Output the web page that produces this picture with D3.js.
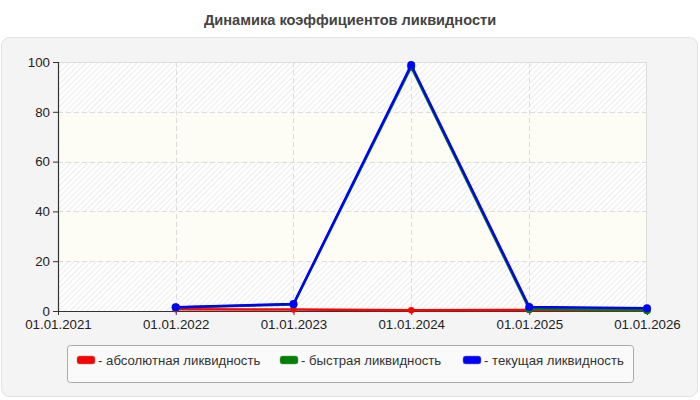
<!DOCTYPE html>
<html>
<head>
<meta charset="utf-8">
<script src="https://cdn.jsdelivr.net/npm/d3@7"></script>
<style>
  body { margin: 0; background: #fff; font-family: "Liberation Sans", Arial, sans-serif; }
  svg text { font-family: "Liberation Sans", Arial, sans-serif; }
</style>
</head>
<body>
<div id="chart"></div>
<script>
const title = "Динамика коэффициентов ликвидности";
const dates = ["2022-01-01", "2023-01-01", "2024-01-01", "2025-01-01", "2026-01-01"];
const seriesNames = ["абсолютная ликвидность", "быстрая ликвидность", "текущая ликвидность"];
const seriesColors = ["#ff0000", "#008000", "#0000ff"];
const absolute = [0.7, 0.6, 0.3, 0.4, 0.3];
const quick = [1.4, 2.6, 98, 0.8, 0.3];
const current = [1.5, 2.8, 98.8, 1.6, 1.1];
const xDomain = ["2021-01-01", "2026-01-01"];
const yTicks = [0, 20, 40, 60, 80, 100];

const width = 700;
const height = 400;
const margin = { top: 62, right: 53, bottom: 89, left: 58 };
const innerW = width - margin.left - margin.right;
const innerH = height - margin.top - margin.bottom;

const parse = d3.utcParse("%Y-%m-%d");
const fmt = d3.utcFormat("%d.%m.%Y");

const series = [absolute, quick, current].map((vals, i) => ({
  name: seriesNames[i],
  color: seriesColors[i],
  values: vals.map((v, j) => ({ date: parse(dates[j]), value: v })),
}));

const x = d3.scaleUtc().domain(xDomain.map(parse)).range([0, innerW]);
const y = d3.scaleLinear().domain([0, 100]).range([innerH, 0]);

const svg = d3.select("#chart").append("svg")
  .attr("width", width)
  .attr("height", height);

const defs = svg.append("defs");
const hatch = defs.append("pattern")
  .attr("id", "hatch")
  .attr("patternUnits", "userSpaceOnUse")
  .attr("width", 4)
  .attr("height", 4)
  .attr("patternTransform", "rotate(45)");
hatch.append("rect").attr("width", 4).attr("height", 4).attr("fill", "#ffffff");
hatch.append("line").attr("x1", 0).attr("y1", 0).attr("x2", 0).attr("y2", 4)
  .attr("stroke", "#e6e6e6").attr("stroke-width", 1.5);

// outer panel
svg.append("rect")
  .attr("x", 1.5).attr("y", 37.5)
  .attr("width", 696).attr("height", 359)
  .attr("rx", 8)
  .attr("fill", "#f4f4f4")
  .attr("stroke", "#e2e2e2");

svg.append("text")
  .attr("x", width / 2)
  .attr("y", 25)
  .attr("text-anchor", "middle")
  .attr("font-size", 14.6)
  .attr("font-weight", "bold")
  .attr("fill", "#444")
  .text(title);

const g = svg.append("g").attr("transform", `translate(${margin.left},${margin.top})`);

// alternating bands
const bands = d3.pairs(yTicks);
g.selectAll(".band")
  .data(bands)
  .join("rect")
  .attr("x", 0)
  .attr("width", innerW)
  .attr("y", (d) => y(d[1]))
  .attr("height", (d) => y(d[0]) - y(d[1]))
  .attr("fill", (d, i) => (i % 2 === 0 ? "url(#hatch)" : "#fdfdf6"));

// grid
g.selectAll(".hgrid")
  .data(yTicks.slice(1, -1))
  .join("line")
  .attr("x1", 0).attr("x2", innerW)
  .attr("y1", (d) => Math.round(y(d)) + 0.5)
  .attr("y2", (d) => Math.round(y(d)) + 0.5)
  .attr("stroke", "#dcdcdc")
  .attr("stroke-dasharray", "5,3");

const xTicks = x.ticks(d3.utcYear.every(1));
g.selectAll(".vgrid")
  .data(xTicks.slice(1, -1))
  .join("line")
  .attr("x1", (d) => Math.round(x(d)) + 0.5)
  .attr("x2", (d) => Math.round(x(d)) + 0.5)
  .attr("y1", 0).attr("y2", innerH)
  .attr("stroke", "#dcdcdc")
  .attr("stroke-dasharray", "5,3");

// plot frame top/right
g.append("path")
  .attr("d", `M0,0.5H${innerW - 0.5}V${innerH}`)
  .attr("fill", "none")
  .attr("stroke", "#dddddd");

// axes
const yAxis = g.append("g")
  .call(d3.axisLeft(y).tickValues(yTicks).tickSize(5).tickPadding(3));
const xAxis = g.append("g")
  .attr("transform", `translate(0,${innerH})`)
  .call(d3.axisBottom(x).tickValues(xTicks).tickFormat(fmt).tickSize(4).tickPadding(5));
[yAxis, xAxis].forEach((ax) => {
  ax.select(".domain").attr("stroke", "#333").attr("stroke-width", 1.2);
  ax.selectAll(".tick line").attr("stroke", "#333");
  ax.selectAll(".tick text")
    .attr("fill", "#222")
    .attr("font-size", 13.3)
    .attr("font-family", "'Liberation Sans', Arial, sans-serif");
});
xAxis.select(".domain").attr("d", `M0,0.5H${innerW}`);

// lines
const line = d3.line()
  .x((d) => x(d.date))
  .y((d) => y(d.value));

const sg = g.selectAll(".series")
  .data(series)
  .join("g");

sg.append("path")
  .attr("d", (d) => line(d.values))
  .attr("fill", "none")
  .attr("stroke", (d) => d.color)
  .attr("stroke-width", 2.5)
  .attr("stroke-linejoin", "round");

sg.selectAll("circle")
  .data((d) => d.values.map((v) => ({ ...v, color: d.color })))
  .join("circle")
  .attr("cx", (d) => x(d.date))
  .attr("cy", (d) => y(d.value))
  .attr("r", (d) => (d.color === "#ff0000" ? 3.2 : 4))
  .attr("fill", (d) => d.color);

// legend
const legend = svg.append("g");
legend.append("rect")
  .attr("x", 67.5).attr("y", 345.5)
  .attr("width", 566).attr("height", 37)
  .attr("rx", 3)
  .attr("fill", "#fafafa")
  .attr("stroke", "#aaaaaa");

const legendX = [77, 280, 463];
const items = legend.selectAll(".item")
  .data(series)
  .join("g")
  .attr("transform", (d, i) => `translate(${legendX[i]},356)`);
items.append("rect")
  .attr("width", 18).attr("height", 8)
  .attr("rx", 2.5)
  .attr("fill", (d) => d.color)
  .attr("stroke", "#888")
  .attr("stroke-width", 0.5);
items.append("text")
  .attr("x", 21)
  .attr("y", 8.5)
  .attr("font-size", 13.2)
  .attr("fill", "#333")
  .text((d) => "- " + d.name);
</script>
</body>
</html>
